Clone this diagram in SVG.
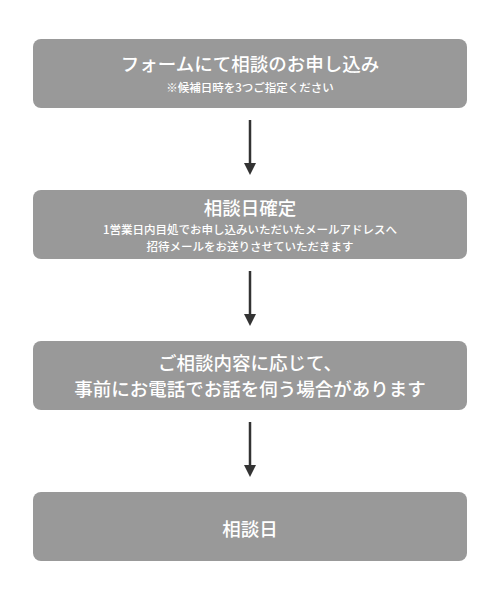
<svg xmlns="http://www.w3.org/2000/svg" width="500" height="600" viewBox="0 0 500 600">
<defs>
<style>
.box{fill:#999999}
.t{fill:#ffffff;font-family:"Noto Sans CJK JP","Noto Sans",sans-serif;font-weight:500;text-anchor:middle}
.big{font-size:18.5px}
.small{font-size:11.5px}
.line{stroke:#333333;stroke-width:2.5;fill:none}
.head{fill:#333333}
</style>
</defs>
<rect width="500" height="600" fill="#ffffff"/>
<g id="connectors">
<line class="line" x1="250" y1="120" x2="250" y2="164"/>
<polygon class="head" points="244,163 256,163 250,175"/>
<line class="line" x1="250" y1="271" x2="250" y2="315"/>
<polygon class="head" points="244,314 256,314 250,326"/>
<line class="line" x1="250" y1="422" x2="250" y2="466"/>
<polygon class="head" points="244,465 256,465 250,477"/>
</g>
<g id="node1">
<rect class="box" x="33" y="39" width="434" height="69" rx="8"/>
<text class="t big" x="250" y="71">フォームにて相談のお申し込み</text>
<text class="t small" x="250" y="92">※候補日時を3つご指定ください</text>
</g>
<g id="node2">
<rect class="box" x="33" y="190" width="434" height="69" rx="8"/>
<text class="t big" x="250" y="215">相談日確定</text>
<text class="t small" x="250" y="234">1営業日内目処でお申し込みいただいたメールアドレスへ</text>
<text class="t small" x="250" y="251">招待メールをお送りさせていただきます</text>
</g>
<g id="node3">
<rect class="box" x="33" y="341" width="434" height="69" rx="8"/>
<text class="t big" x="250" y="370">ご相談内容に応じて、</text>
<text class="t big" x="250" y="396">事前にお電話でお話を伺う場合があります</text>
</g>
<g id="node4">
<rect class="box" x="33" y="492" width="434" height="69" rx="8"/>
<text class="t big" x="250" y="536">相談日</text>
</g>
</svg>
